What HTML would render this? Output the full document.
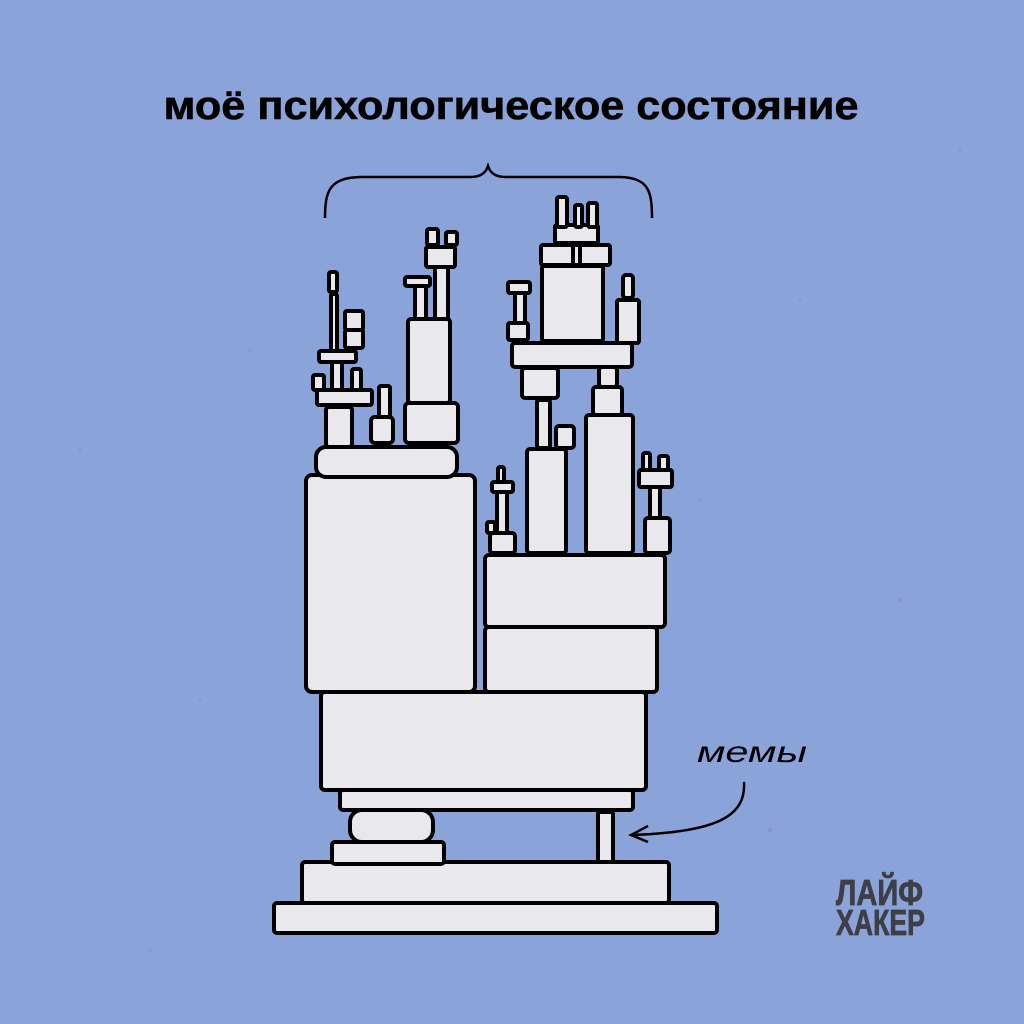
<!DOCTYPE html>
<html><head><meta charset="utf-8"><style>
html,body{margin:0;padding:0;background:#8aa3d8;}
svg{display:block}
</style></head><body>
<svg width="1024" height="1024" viewBox="0 0 1024 1024" xmlns="http://www.w3.org/2000/svg">
<rect width="1024" height="1024" fill="#8aa3d8"/>
<g fill="#8f7fe0" opacity="0.5">
<circle cx="120" cy="200" r="1.5"/><circle cx="800" cy="300" r="1.5"/><circle cx="900" cy="600" r="2"/><circle cx="200" cy="700" r="1.5"/><circle cx="80" cy="450" r="1.5"/><circle cx="960" cy="150" r="1.5"/><circle cx="770" cy="830" r="2.5"/><circle cx="150" cy="950" r="1.5"/><circle cx="700" cy="500" r="1.5"/><circle cx="250" cy="350" r="1.5"/>
</g>
<text x="511" y="119" text-anchor="middle" font-family="'Liberation Sans','DejaVu Sans',sans-serif" font-weight="bold" font-size="40" fill="#000" stroke="#000" stroke-width="0.6" textLength="695" lengthAdjust="spacingAndGlyphs">моё психологическое состояние</text>
<path d="M325,218 C325,190 330,178 360,177 L470,177 C482,177 486,172 488,166 C490,172 494,177 506,177 L620,177 C648,178 652,190 652,218" fill="none" stroke="#000" stroke-width="2.5"/>
<g fill="#e9e9ed" stroke="#000" stroke-width="4" stroke-linejoin="round">
<rect x="274" y="903" width="443" height="30" rx="3"/>
<rect x="302" y="862" width="367" height="41" rx="3"/>
<rect x="332" y="842" width="112" height="22" rx="3"/>
<rect x="350" y="810" width="83" height="32" rx="12"/>
<rect x="598" y="812" width="15" height="50" rx="2"/>
<rect x="340" y="790" width="293" height="20" rx="3"/>
<rect x="321" y="692" width="325" height="98" rx="4"/>
<rect x="306" y="475" width="169" height="217" rx="6"/>
<rect x="485" y="627" width="172" height="65" rx="4"/>
<rect x="485" y="555" width="180" height="72" rx="4"/>
<rect x="316" y="447" width="141" height="30" rx="10"/>
<rect x="326" y="407" width="26" height="40" rx="3"/>
<rect x="371" y="417" width="22" height="26" rx="4"/>
<rect x="379" y="386" width="11" height="31" rx="2"/>
<rect x="317" y="390" width="55" height="15" rx="2"/>
<rect x="313" y="375" width="11" height="15" rx="2"/>
<rect x="332" y="362" width="10" height="28" rx="2"/>
<rect x="352" y="369" width="9" height="21" rx="2"/>
<rect x="319" y="351" width="37" height="11" rx="2"/>
<rect x="331" y="294" width="6" height="57" rx="2"/>
<rect x="329" y="272" width="8" height="20" rx="2"/>
<rect x="345" y="330" width="18" height="18" rx="2"/>
<rect x="345" y="311" width="18" height="19" rx="2"/>
<rect x="405" y="403" width="53" height="40" rx="4"/>
<rect x="408" y="319" width="42" height="84" rx="3"/>
<rect x="415" y="286" width="11" height="33" rx="2"/>
<rect x="405" y="277" width="25" height="9" rx="2"/>
<rect x="435" y="267" width="13" height="52" rx="2"/>
<rect x="426" y="247" width="29" height="20" rx="2"/>
<rect x="427" y="229" width="11" height="16" rx="2"/>
<rect x="446" y="232" width="11" height="13" rx="2"/>
<rect x="490" y="533" width="25" height="20" rx="3"/>
<rect x="487" y="522" width="8" height="11" rx="2"/>
<rect x="497" y="492" width="10" height="41" rx="2"/>
<rect x="492" y="482" width="21" height="10" rx="2"/>
<rect x="498" y="467" width="6" height="15" rx="2"/>
<rect x="527" y="449" width="39" height="104" rx="3"/>
<rect x="537" y="400" width="13" height="48" rx="2"/>
<rect x="556" y="426" width="18" height="22" rx="3"/>
<rect x="586" y="415" width="47" height="138" rx="3"/>
<rect x="593" y="387" width="29" height="28" rx="3"/>
<rect x="599" y="367" width="18" height="20" rx="3"/>
<rect x="522" y="368" width="36" height="30" rx="3"/>
<rect x="645" y="518" width="25" height="35" rx="3"/>
<rect x="650" y="487" width="10" height="31" rx="2"/>
<rect x="639" y="470" width="33" height="17" rx="2"/>
<rect x="643" y="453" width="7" height="17" rx="2"/>
<rect x="659" y="456" width="9" height="14" rx="2"/>
<rect x="512" y="343" width="120" height="24" rx="3"/>
<rect x="508" y="323" width="20" height="17" rx="2"/>
<rect x="515" y="293" width="10" height="30" rx="2"/>
<rect x="508" y="282" width="22" height="11" rx="2"/>
<rect x="617" y="300" width="22" height="43" rx="2"/>
<rect x="623" y="275" width="10" height="23" rx="3"/>
<rect x="542" y="266" width="61" height="75" rx="2"/>
<rect x="570" y="245" width="12" height="20" rx="1"/>
<rect x="541" y="245" width="32" height="20" rx="2"/>
<rect x="580" y="245" width="30" height="20" rx="2"/>
<rect x="555" y="225" width="43" height="18" rx="2"/>
<rect x="557" y="197" width="10" height="30" rx="2"/>
<rect x="575" y="205" width="7" height="22" rx="2"/>
<rect x="588" y="203" width="9" height="24" rx="2"/>
</g>
<text x="697" y="762" font-family="'Liberation Sans','DejaVu Sans',sans-serif" font-style="italic" font-size="30" fill="#000" textLength="110" lengthAdjust="spacingAndGlyphs">мемы</text>
<path d="M744,782 C746,815 720,832 632,835" fill="none" stroke="#000" stroke-width="2.5"/>
<path d="M648,826 L631,835 L648,842" fill="none" stroke="#000" stroke-width="2.5"/>
<g font-family="'Liberation Sans Narrow','Liberation Sans',sans-serif" font-weight="bold" font-size="36" fill="#3e3e46" stroke="#3e3e46" stroke-width="0.8">
<text x="836" y="905" textLength="87" lengthAdjust="spacingAndGlyphs">ЛАЙФ</text>
<text x="836" y="935" textLength="89" lengthAdjust="spacingAndGlyphs">ХАКЕР</text>
</g>
</svg>
</body></html>
